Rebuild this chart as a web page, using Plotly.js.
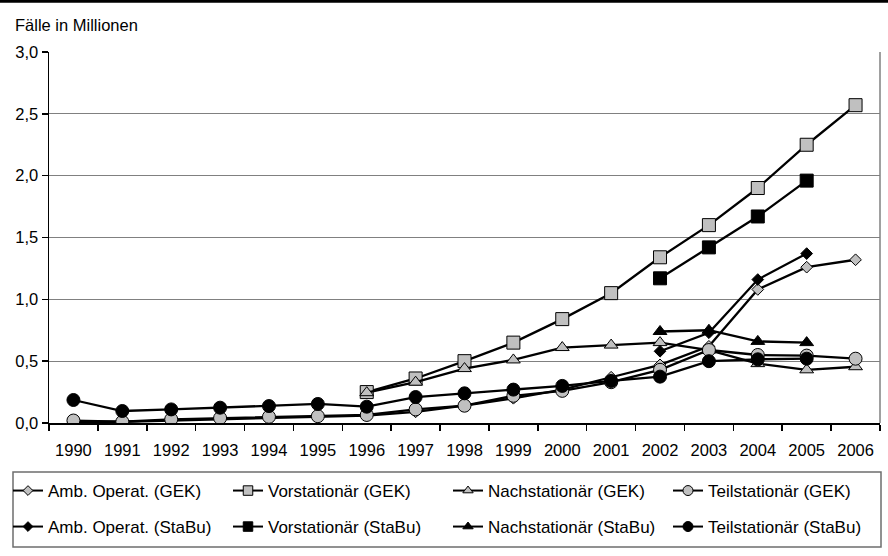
<!DOCTYPE html>
<html>
<head>
<meta charset="utf-8">
<script src="https://cdn.plot.ly/plotly-3.0.1.min.js"></script>
<style>
html,body{margin:0;padding:0;background:#fff;}
#chart{width:888px;height:556px;}
</style>
</head>
<body>
<div id="chart"></div>
<script>
const years = ['1990','1991','1992','1993','1994','1995','1996','1997','1998','1999','2000','2001','2002','2003','2004','2005','2006'];

const ambGEK   = [0.01,0.01,0.02,0.03,0.04,0.05,0.06,0.09,0.14,0.20,0.27,0.37,0.47,0.62,1.08,1.26,1.32];
const vorGEK   = [null,null,null,null,null,null,0.25,0.36,0.50,0.65,0.84,1.05,1.34,1.60,1.90,2.25,2.57];
const nachGEK  = [null,null,null,null,null,null,0.245,0.33,0.44,0.51,0.61,0.63,0.65,0.59,0.48,0.43,0.455];
const teilGEK  = [0.02,0.01,0.03,0.04,0.05,0.055,0.065,0.11,0.14,0.22,0.26,0.33,0.43,0.59,0.55,0.545,0.52];
const ambStaBu  = [null,null,null,null,null,null,null,null,null,null,null,null,0.58,0.73,1.16,1.37,null];
const vorStaBu  = [null,null,null,null,null,null,null,null,null,null,null,null,1.17,1.42,1.67,1.96,null];
const nachStaBu = [null,null,null,null,null,null,null,null,null,null,null,null,0.74,0.75,0.66,0.65,null];
const teilStaBu = [0.186,0.097,0.11,0.124,0.137,0.154,0.132,0.21,0.24,0.27,0.30,0.34,0.375,0.50,0.515,0.52,null];

const names = ['Amb. Operat. (GEK)','Vorstationär (GEK)','Nachstationär (GEK)','Teilstationär (GEK)',
               'Amb. Operat. (StaBu)','Vorstationär (StaBu)','Nachstationär (StaBu)','Teilstationär (StaBu)'];

const FONT = 'Liberation Sans, Arial, sans-serif';
const GRAY = '#c0c0c0';

const styles = [
  {sym: 'diamond', size: 9, leg: 7.5, fill: GRAY, legend: 'legend'},
  {sym: 'square', size: 13, leg: 9.5, fill: GRAY, legend: 'legend'},
  {sym: 'triangle-up', size: 12, leg: 9, fill: GRAY, legend: 'legend'},
  {sym: 'circle', size: 13, leg: 10, fill: GRAY, legend: 'legend'},
  {sym: 'diamond', size: 9, leg: 7.5, fill: '#000', legend: 'legend2'},
  {sym: 'square', size: 13, leg: 9.5, fill: '#000', legend: 'legend2'},
  {sym: 'triangle-up', size: 12, leg: 9, fill: '#000', legend: 'legend2'},
  {sym: 'circle', size: 13, leg: 10, fill: '#000', legend: 'legend2'}
];
const series = [ambGEK, vorGEK, nachGEK, teilGEK, ambStaBu, vorStaBu, nachStaBu, teilStaBu];

const data = [];
series.forEach((y, i) => {
  const s = styles[i];
  data.push({
    x: years, y: y, name: names[i], type: 'scatter', mode: 'lines+markers',
    line: {color: '#000', width: 2.3},
    marker: {symbol: s.sym, size: s.size, color: s.fill, line: {color: '#000', width: 1}},
    showlegend: false, connectgaps: false, hoverinfo: 'skip'
  });
});
// legend keys (no visible data point; only used for the legend with smaller markers)
series.forEach((y, i) => {
  const s = styles[i];
  data.push({
    x: [years[0]], y: [null], name: names[i], type: 'scatter', mode: 'lines+markers',
    line: {color: '#000', width: 2},
    marker: {symbol: s.sym, size: s.leg, color: s.fill, line: {color: '#000', width: 1}},
    showlegend: true, legend: s.legend, hoverinfo: 'skip'
  });
});

const L = 49, R = 8, T = 52, B = 133;
const PW = 888 - L - R, PH = 556 - T - B;
const px2x = p => (p - L) / PW;
const py2y = p => (556 - B - p) / PH;

const legCommon = {
  orientation: 'h', xanchor: 'left', yanchor: 'middle',
  font: {family: FONT, size: 17, color: '#000'},
  bgcolor: 'rgba(0,0,0,0)', borderwidth: 0,
  entrywidth: 175, entrywidthmode: 'pixels',
  itemsizing: 'trace', tracegroupgap: 0
};

const layout = {
  width: 888, height: 556,
  margin: {l: L, r: R, t: T, b: B, pad: 0},
  paper_bgcolor: '#fff', plot_bgcolor: '#fff',
  font: {family: FONT, size: 16.5, color: '#000'},
  separators: ',.',
  showlegend: true,
  legend: Object.assign({}, legCommon, {x: px2x(18), y: py2y(491)}),
  legend2: Object.assign({}, legCommon, {x: px2x(18), y: py2y(527)}),
  xaxis: {
    type: 'category', range: [-0.5, 16.5],
    showline: true, linecolor: '#000', linewidth: 1.5, mirror: false,
    ticks: 'outside', ticklen: 6, tickcolor: '#000', tickwidth: 1.5,
    tickson: 'boundaries', showgrid: false, zeroline: false,
    ticklabelstandoff: 12,
    tickfont: {family: FONT, size: 16.5, color: '#000'}
  },
  yaxis: {
    range: [0, 3], dtick: 0.5, tick0: 0, tickformat: '.1f',
    showline: true, linecolor: '#000', linewidth: 1.5,
    ticks: 'outside', ticklen: 6, tickcolor: '#000', tickwidth: 1.5,
    showgrid: true, gridcolor: '#808080', gridwidth: 1, zeroline: false,
    tickfont: {family: FONT, size: 16.5, color: '#000'}
  },
  shapes: [
    {type: 'line', xref: 'paper', yref: 'paper', x0: 1, x1: 1, y0: 0, y1: 1, line: {color: '#808080', width: 1.5}},
    {type: 'rect', xref: 'paper', yref: 'paper', x0: px2x(13), x1: px2x(881), y0: py2y(472), y1: py2y(547),
     line: {color: '#6e6e6e', width: 1.5}, fillcolor: 'rgba(0,0,0,0)'},
    {type: 'line', xref: 'paper', yref: 'paper', x0: px2x(0), x1: px2x(888), y0: py2y(1.3), y1: py2y(1.3), line: {color: '#000', width: 3}}
  ],
  annotations: [
    {text: 'Fälle in Millionen', xref: 'paper', yref: 'paper', x: px2x(13), y: py2y(25),
     xanchor: 'left', yanchor: 'middle', showarrow: false, font: {family: FONT, size: 16.5, color: '#000'}}
  ]
};

Plotly.newPlot('chart', data, layout, {displayModeBar: false, staticPlot: true});
</script>
</body>
</html>
